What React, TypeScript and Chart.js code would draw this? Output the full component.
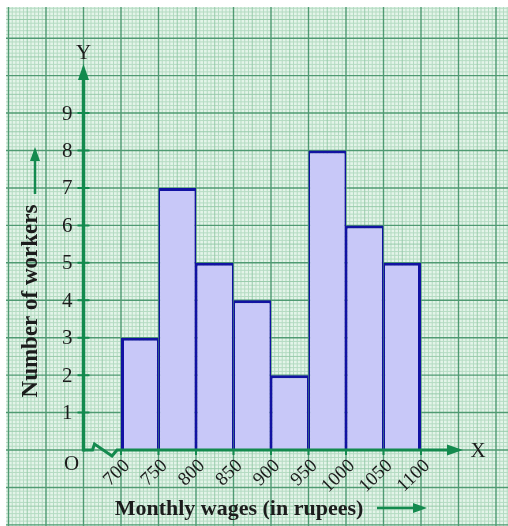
import React, { useEffect, useRef } from 'react';
import { Chart, registerables } from 'chart.js';

Chart.register(...registerables);

// ---- data ----
const wageBoundaries = [700, 750, 800, 850, 900, 950, 1000, 1050, 1100];
const xTickLabels = ['700', '750', '800', '850', '900', '950', '1000', '1050', '1100'];
const workerCounts = [3, 7, 5, 4, 2, 8, 6, 5];
const yTickValues = [1, 2, 3, 4, 5, 6, 7, 8, 9];
const yTickLabels = ['1', '2', '3', '4', '5', '6', '7', '8', '9'];
const xTitle = 'Monthly wages (in rupees)';
const yTitle = 'Number of workers';
const yAxisAtWage = 650; // Y axis drawn at this wage position (axis break)

const SERIF = '"Liberation Serif", "Times New Roman", serif';
const GREEN = '#138a4e';
const TEXT = '#1c1c1c';

export default function App() {
  const ref = useRef<HTMLCanvasElement>(null);

  useEffect(() => {
    const canvas = ref.current;
    if (!canvas) return;
    const n = workerCounts.length;
    const points = workerCounts.map((c, i) => ({
      x: (wageBoundaries[i] + wageBoundaries[i + 1]) / 2,
      y: c,
    }));

    const paper = {
      id: 'paper',
      beforeDraw(chart: any) {
        const { ctx } = chart;
        const xs = chart.scales.x;
        const ys = chart.scales.y;
        const W = chart.width;
        const H = chart.height;
        ctx.save();
        ctx.fillStyle = '#ffffff';
        ctx.fillRect(0, 0, W, H);
        const L = 6, T = 7;
        ctx.fillStyle = '#e4f4e9';
        ctx.fillRect(L, T, W - L, H - T);
        ctx.beginPath();
        ctx.rect(L, T, W - L, H - T);
        ctx.clip();
        const levels = [
          { color: '#b4dbc2', width: 1 },
          { color: '#98cbab', width: 1 },
          { color: '#4f9a72', width: 1.4 },
        ];
        for (let lvl = 0; lvl < 3; lvl++) {
          ctx.strokeStyle = levels[lvl].color;
          ctx.lineWidth = levels[lvl].width;
          ctx.beginPath();
          // vertical lines every 5 rupees
          const xStep = 5;
          for (let k = Math.ceil(xs.min / xStep); k * xStep <= xs.max; k++) {
            const l = k % 10 === 0 ? 2 : k % 5 === 0 ? 1 : 0;
            if (l !== lvl) continue;
            const px = xs.getPixelForValue(k * xStep);
            ctx.moveTo(px, T);
            ctx.lineTo(px, H);
          }
          // horizontal lines every 0.1 worker
          for (let k = Math.ceil(ys.min * 10); k <= ys.max * 10; k++) {
            const l = k % 10 === 0 ? 2 : k % 5 === 0 ? 1 : 0;
            if (l !== lvl) continue;
            const py = ys.getPixelForValue(k / 10);
            ctx.moveTo(L, py);
            ctx.lineTo(W, py);
          }
          ctx.stroke();
        }
        ctx.restore();
      },
      afterDatasetsDraw(chart: any) {
        const { ctx } = chart;
        const xs = chart.scales.x;
        const ys = chart.scales.y;
        const ox = xs.getPixelForValue(yAxisAtWage);
        const oy = ys.getPixelForValue(0);
        const firstX = xs.getPixelForValue(wageBoundaries[0]);
        ctx.save();
        ctx.strokeStyle = GREEN;
        ctx.fillStyle = GREEN;
        ctx.lineWidth = 3.5;
        ctx.lineJoin = 'miter';
        // Y axis
        const yTip = 64;
        ctx.beginPath();
        ctx.moveTo(ox, oy + 1.5);
        ctx.lineTo(ox, yTip + 12);
        ctx.stroke();
        ctx.beginPath();
        ctx.moveTo(ox, yTip);
        ctx.lineTo(ox - 5.5, yTip + 16);
        ctx.lineTo(ox + 5.5, yTip + 16);
        ctx.closePath();
        ctx.fill();
        // X axis with break
        const xTip = 463;
        ctx.lineWidth = 3;
        ctx.beginPath();
        ctx.moveTo(ox, oy);
        ctx.lineTo(ox + 9, oy);
        ctx.lineTo(ox + 11, oy - 6);
        ctx.lineTo(firstX - 9, oy + 6);
        ctx.lineTo(firstX - 4, oy);
        ctx.lineTo(xTip - 10, oy);
        ctx.stroke();
        ctx.beginPath();
        ctx.moveTo(xTip, oy);
        ctx.lineTo(xTip - 16, oy - 5.5);
        ctx.lineTo(xTip - 16, oy + 5.5);
        ctx.closePath();
        ctx.fill();
        // Y ticks
        ctx.lineWidth = 2;
        ctx.beginPath();
        yTickValues.forEach((v) => {
          const py = ys.getPixelForValue(v);
          ctx.moveTo(ox - 6, py);
          ctx.lineTo(ox + 6, py);
        });
        // X ticks
        wageBoundaries.forEach((v) => {
          const px = xs.getPixelForValue(v);
          ctx.moveTo(px, oy);
          ctx.lineTo(px, oy + 5);
        });
        ctx.stroke();

        // texts
        ctx.fillStyle = TEXT;
        ctx.font = `21px ${SERIF}`;
        ctx.textAlign = 'right';
        ctx.textBaseline = 'middle';
        yTickValues.forEach((v, i) => {
          ctx.fillText(yTickLabels[i], ox - 11, ys.getPixelForValue(v) + 1);
        });
        ctx.textAlign = 'center';
        ctx.fillText('Y', ox, 53);
        ctx.fillText('X', 478, oy + 1);
        ctx.fillText('O', ox - 12, oy + 14);

        ctx.font = `19px ${SERIF}`;
        ctx.textAlign = 'right';
        wageBoundaries.forEach((v, i) => {
          const px = xs.getPixelForValue(v);
          ctx.save();
          ctx.translate(px + 6, oy + 13);
          ctx.rotate((-44 * Math.PI) / 180);
          ctx.fillText(xTickLabels[i], 0, 0);
          ctx.restore();
        });

        // X title
        ctx.font = `bold 22px ${SERIF}`;
        ctx.textAlign = 'center';
        ctx.fillText(xTitle, 239, 509);
        // Y title
        ctx.save();
        ctx.translate(31, 301);
        ctx.rotate(-Math.PI / 2);
        ctx.font = `bold 23px ${SERIF}`;
        ctx.fillText(yTitle, 0, 0);
        ctx.restore();

        // title arrows
        ctx.strokeStyle = GREEN;
        ctx.fillStyle = GREEN;
        ctx.lineWidth = 2.5;
        ctx.beginPath();
        ctx.moveTo(377, 508);
        ctx.lineTo(416, 508);
        ctx.stroke();
        ctx.beginPath();
        ctx.moveTo(427, 508);
        ctx.lineTo(413, 503);
        ctx.lineTo(413, 513);
        ctx.closePath();
        ctx.fill();
        ctx.beginPath();
        ctx.moveTo(35, 194);
        ctx.lineTo(35, 158);
        ctx.stroke();
        ctx.beginPath();
        ctx.moveTo(35, 147);
        ctx.lineTo(30, 161);
        ctx.lineTo(40, 161);
        ctx.closePath();
        ctx.fill();
        ctx.restore();
      },
    };

    const chart = new Chart(canvas, {
      type: 'bar',
      data: {
        datasets: [
          {
            data: points as any,
            backgroundColor: '#c8c8f8',
            borderColor: '#1212a2',
            borderWidth: ((c: any) => ({
              top: 3,
              bottom: 0,
              left: c.dataIndex === 0 ? 3 : 1.6,
              right: c.dataIndex === n - 1 ? 3 : 1.6,
            })) as any,
            borderSkipped: false,
            inflateAmount: 0,
            barPercentage: 1,
            categoryPercentage: 1,
          } as any,
        ],
      },
      options: {
        animation: false,
        responsive: false,
        events: [],
        layout: { padding: 0 },
        plugins: { legend: { display: false }, tooltip: { enabled: false } },
        scales: {
          x: { type: 'linear', display: false, offset: false, min: 538.667, max: 1216 },
          y: { type: 'linear', display: false, min: -2.03, max: 12.02 },
        },
      } as any,
      plugins: [paper],
    });
    return () => chart.destroy();
  }, []);

  return (
    <canvas
      ref={ref}
      width={508}
      height={526}
      style={{ position: 'fixed', left: 0, top: 0, display: 'block' }}
    />
  );
}
